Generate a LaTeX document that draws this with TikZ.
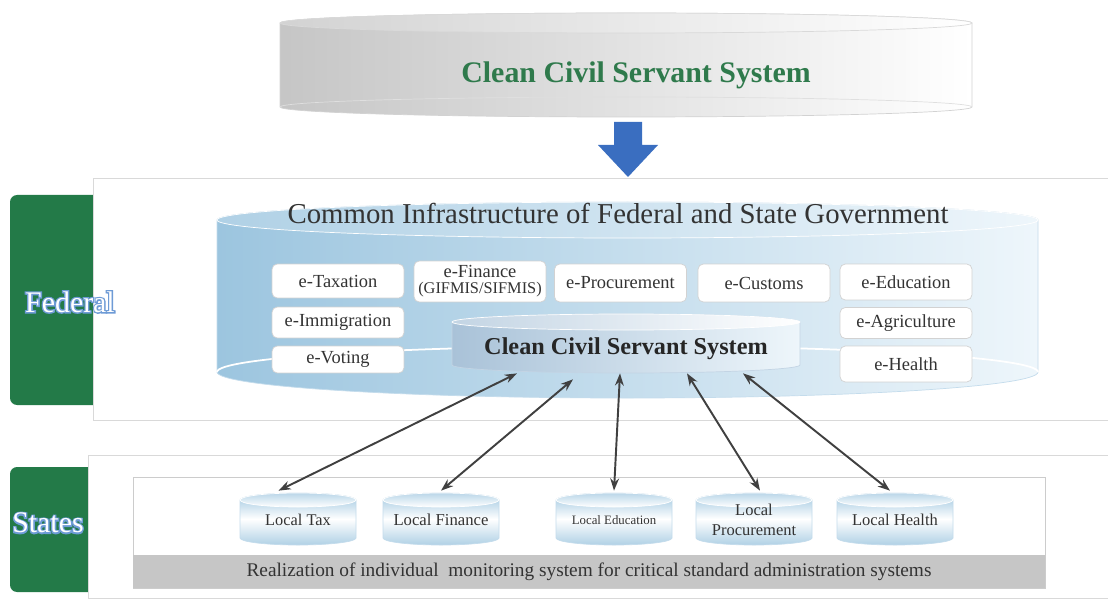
\documentclass[tikz,border=0pt]{standalone}
\usepackage{fontspec}
\setmainfont{LiberationSerif}[Extension=.ttf, UprightFont=*-Regular, BoldFont=*-Bold, ItalicFont=*-Italic, BoldItalicFont=*-BoldItalic]
\usepackage{tikz}
\usetikzlibrary{arrows.meta}
\usepackage{xcolor}

\definecolor{fedgreen}{HTML}{237A48}
\definecolor{titlegreen}{HTML}{2F7A4C}
\definecolor{arrowblue}{HTML}{3A6EC0}
\definecolor{cylblue}{HTML}{9CC5DF}
\definecolor{cylpale}{HTML}{EEF6FB}
\definecolor{ccsblue}{HTML}{A9C2D8}
\definecolor{textgrey}{HTML}{333333}
\definecolor{bandgrey}{HTML}{C6C6C6}
\definecolor{glowblue}{HTML}{6E9BD6}

\begin{document}
\begin{tikzpicture}[x=0.02cm, y=0.02cm,
		ebox/.style={draw=gray!35, fill=white, rounded corners=3pt, text=textgrey,
			font=\fontsize{10.5}{12}\selectfont, minimum width=2.64cm, inner sep=1pt, align=center},
		drumtext/.style={text=textgrey, font=\fontsize{9.3}{10.5}\selectfont,
			minimum width=2.32cm, minimum height=1.16cm, inner sep=0pt, align=center},
		sidelabel/.style={text=white, font=\fontsize{17}{19}\selectfont},
		sideglow/.style={text=glowblue, font=\fontsize{17}{19}\selectfont\addfontfeature{FakeBold=9}},
		conn/.style={{Stealth[length=7pt,width=5pt]}-{Stealth[length=7pt,width=5pt]}, line width=1.1pt, draw=black!75}]
	\useasboundingbox (0,0) rectangle (1108,-601);
	
	% top disk
	\shadedraw[left color=gray!45, right color=white, draw=gray!35] (280,-23) -- (280,-107) arc[start angle=180, end angle=360, x radius=346, y radius=10] -- (972,-23) arc[start angle=0, end angle=180, x radius=346, y radius=10] -- cycle;
	\draw[gray!25] (280,-107) arc[start angle=180, end angle=0, x radius=346, y radius=10];
	\shadedraw[left color=gray!35, right color=white, draw=gray!30] (626,-23) ellipse[x radius=346, y radius=10];
	\node[font=\bfseries\fontsize{17}{19}\selectfont, text=titlegreen] (ccstop) at (636,-75) {Clean Civil Servant System};
	
	\fill[arrowblue] (614,-122) -- (642,-122) -- (642,-145) -- (658,-145) -- (628,-177) -- (598,-145) -- (614,-145) -- cycle;
	
	% federal
	\fill[fedgreen, rounded corners=4pt] (10,-195) rectangle (110,-405);
	\draw[gray!30, fill=white] (93,-178) rectangle (1108,-420);
	\node[sideglow] (federal) at (70,-302) {Federal};
	\node[sidelabel] at (federal) {Federal};
	
	\shadedraw[left color=cylblue, right color=cylpale, draw=cylblue!60] (217,-220) -- (217,-372) arc[start angle=180, end angle=360, x radius=410.5, y radius=26] -- (1038,-220) arc[start angle=0, end angle=180, x radius=410.5, y radius=18] -- cycle;
	\draw[white, line width=1pt] (217,-372) arc[start angle=180, end angle=0, x radius=410.5, y radius=26];
	\shadedraw[left color=cylblue!80, right color=cylpale, draw=white] (627.5,-220) ellipse[x radius=410.5, y radius=18];
	\node[font=\fontsize{16.4}{18}\selectfont, text=textgrey] (infra) at (618,-213) {Common Infrastructure of Federal and State Government};
	
	\node[ebox, minimum height=0.68cm] (etax) at (338,-281) {e-Taxation};
	\node[ebox, minimum height=0.82cm] (efin) at (480,-281.5) {e-Finance\\[-3pt]{\fontsize{9.3}{10}\selectfont (GIFMIS/SIFMIS)}};
	\node[ebox, minimum height=0.76cm] (eproc) at (620.5,-283) {e-Procurement};
	\node[ebox, minimum height=0.76cm] (ecus) at (764,-283) {e-Customs};
	\node[ebox, minimum height=0.72cm] (eedu) at (906,-282) {e-Education};
	\node[ebox, minimum height=0.62cm] (eimm) at (338,-322.5) {e-Immigration};
	\node[ebox, minimum height=0.62cm] (eagr) at (906,-323) {e-Agriculture};
	\node[ebox, minimum height=0.54cm] (evot) at (338,-359.5) {e-Voting};
	\node[ebox, minimum height=0.72cm] (ehea) at (906,-364) {e-Health};
	
	\shadedraw[left color=ccsblue, right color=cylpale, draw=ccsblue!70] (452,-322) -- (452,-365) arc[start angle=180, end angle=360, x radius=174, y radius=8] -- (800,-322) arc[start angle=0, end angle=180, x radius=174, y radius=8] -- cycle;
	\shadedraw[left color=ccsblue!70, right color=white, draw=white] (626,-322) ellipse[x radius=174, y radius=8];
	\node[font=\bfseries\fontsize{13.8}{16}\selectfont, text=black!85, minimum width=6.96cm, minimum height=0.96cm, inner sep=0pt] (ccs) at (626,-349) {Clean Civil Servant System};
	
	% states
	\fill[fedgreen, rounded corners=4pt] (10,-467) rectangle (100,-592);
	\draw[gray!30, fill=white] (88,-455) rectangle (1108,-598);
	\node[sideglow] (states) at (48,-523) {States};
	\node[sidelabel] at (states) {States};
	\draw[gray!40, fill=white] (133,-477) rectangle (1045,-588);
	\fill[bandgrey] (133,-555) rectangle (1045,-588);
	\node[text=textgrey, font=\fontsize{11}{13}\selectfont] (realize) at (589,-572) {Realization of individual\ \ monitoring system for critical standard administration systems};
	
	\shadedraw[top color=cylblue, bottom color=cylblue!80, middle color=white, draw=cylblue!60] (240,-500) -- (240,-538) arc[start angle=180, end angle=360, x radius=58, y radius=7] -- (356,-500) arc[start angle=0, end angle=180, x radius=58, y radius=7] -- cycle;
	\shadedraw[top color=cylblue!70, bottom color=white, draw=white] (298,-500) ellipse[x radius=58, y radius=7];
	\node[drumtext] (ltax) at (298,-520) {Local Tax};
	
	\shadedraw[top color=cylblue, bottom color=cylblue!80, middle color=white, draw=cylblue!60] (383,-500) -- (383,-538) arc[start angle=180, end angle=360, x radius=58, y radius=7] -- (499,-500) arc[start angle=0, end angle=180, x radius=58, y radius=7] -- cycle;
	\shadedraw[top color=cylblue!70, bottom color=white, draw=white] (441,-500) ellipse[x radius=58, y radius=7];
	\node[drumtext, font=\fontsize{9.5}{10.5}\selectfont] (lfin) at (441,-520) {Local Finance};
	
	\shadedraw[top color=cylblue, bottom color=cylblue!80, middle color=white, draw=cylblue!60] (556,-500) -- (556,-538) arc[start angle=180, end angle=360, x radius=58, y radius=7] -- (672,-500) arc[start angle=0, end angle=180, x radius=58, y radius=7] -- cycle;
	\shadedraw[top color=cylblue!70, bottom color=white, draw=white] (614,-500) ellipse[x radius=58, y radius=7];
	\node[drumtext, font=\fontsize{7.3}{9}\selectfont] (ledu) at (614,-520) {Local Education};
	
	\shadedraw[top color=cylblue, bottom color=cylblue!80, middle color=white, draw=cylblue!60] (696,-500) -- (696,-538) arc[start angle=180, end angle=360, x radius=58, y radius=7] -- (812,-500) arc[start angle=0, end angle=180, x radius=58, y radius=7] -- cycle;
	\shadedraw[top color=cylblue!70, bottom color=white, draw=white] (754,-500) ellipse[x radius=58, y radius=7];
	\node[drumtext, font=\fontsize{9.4}{11}\selectfont] (lproc) at (754,-520) {Local\\Procurement};
	
	\shadedraw[top color=cylblue, bottom color=cylblue!80, middle color=white, draw=cylblue!60] (837,-500) -- (837,-538) arc[start angle=180, end angle=360, x radius=58, y radius=7] -- (953,-500) arc[start angle=0, end angle=180, x radius=58, y radius=7] -- cycle;
	\shadedraw[top color=cylblue!70, bottom color=white, draw=white] (895,-500) ellipse[x radius=58, y radius=7];
	\node[drumtext, font=\fontsize{9.4}{10.5}\selectfont] (lhea) at (895,-520) {Local Health};
	
	% links
	\draw[conn] ([xshift=-2.18cm]ccs.south) -- ([xshift=-0.39cm]ltax.north);
	\draw[conn] ([xshift=-1.06cm, yshift=-0.12cm]ccs.south) -- (lfin.north);
	\draw[conn] ([xshift=-0.12cm]ccs.south) -- (ledu.north);
	\draw[conn] ([xshift=1.22cm]ccs.south) -- ([xshift=0.12cm]lproc.north);
	\draw[conn] ([xshift=2.34cm]ccs.south) -- ([xshift=-0.1cm]lhea.north);
	
\end{tikzpicture}
\end{document}
